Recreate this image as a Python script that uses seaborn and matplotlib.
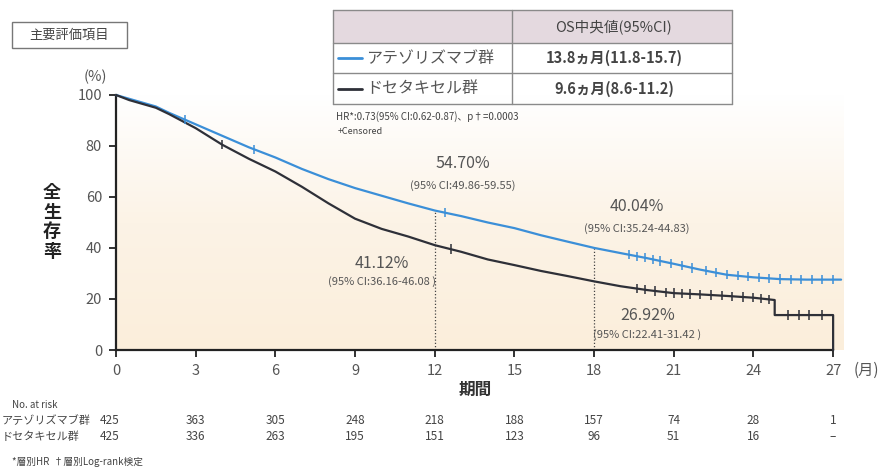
import numpy as np
import pandas as pd
import matplotlib
matplotlib.use("Agg")
import matplotlib.pyplot as plt
import matplotlib.transforms as mtransforms
from matplotlib.colors import LinearSegmentedColormap
from matplotlib.patches import Rectangle
import seaborn as sns

# ---- data -------------------------------------------------------------
arm_names = ["アテゾリズマブ群", "ドセタキセル群"]

atezo_t = [0, 0.5, 1, 1.5, 2, 3, 4, 5, 6, 7, 8, 9, 10, 11, 12, 13, 14, 15,
           16, 17, 18, 19, 20, 21, 22, 23, 24, 25, 26, 27.3]
atezo_s = [100, 98.5, 97, 95.5, 93, 88.5, 84, 79.5, 75.5, 71, 67, 63.5, 60.5,
           57.5, 54.7, 52.5, 50, 47.8, 45, 42.5, 40.04, 38, 36, 33.8, 31.5,
           29.5, 28.5, 27.8, 27.6, 27.6]

doce_t = [0, 0.5, 1, 1.5, 2, 3, 4, 5, 6, 7, 8, 9, 10, 11, 12, 13, 14, 15, 16,
          17, 18, 19, 20, 21, 22, 23, 24, 24.8, 24.8, 27, 27]
doce_s = [100, 98, 96.5, 95, 92.5, 87, 80.5, 75, 70, 64, 57.5, 51.5, 47.5,
          44.5, 41.12, 38.5, 35.5, 33.3, 31, 29, 26.92, 25, 23.5, 22.3, 21.8,
          21.2, 20.5, 19.6, 13.7, 13.7, 0]

atezo_cens = [2.6, 5.2, 12.4, 19.3, 19.6, 19.9, 20.2, 20.5, 20.9, 21.3, 21.7,
              22.2, 22.6, 23.0, 23.4, 23.8, 24.2, 24.6, 25.0, 25.4, 25.8, 26.2,
              26.6, 27.0]
doce_cens = [4.0, 12.6, 19.6, 19.9, 20.3, 20.7, 21.0, 21.3, 21.6, 22.0, 22.4,
             22.8, 23.2, 23.6, 24.0, 24.3, 24.6, 25.3, 25.7, 26.1, 26.6]

# landmark estimates at 12 and 18 months
landmark_s = [54.70, 41.12, 40.04, 26.92]
landmark_ci = ["(95% CI:49.86-59.55)", "(95% CI:36.16-46.08 )",
               "(95% CI:35.24-44.83)", "(95% CI:22.41-31.42 )"]

x_ticks = [0, 3, 6, 9, 12, 15, 18, 21, 24, 27]
y_ticks = [0, 20, 40, 60, 80, 100]
risk_atezo = ["425", "363", "305", "248", "218", "188", "157", "74", "28", "1"]
risk_doce = ["425", "336", "263", "195", "151", "123", "96", "51", "16", "–"]

median_os = ["13.8ヵ月(11.8-15.7)", "9.6ヵ月(8.6-11.2)"]

BLUE = "#3b8fd8"
DARK = "#2e3038"
GRAY = "#555555"
JP = ["Noto Sans CJK JP", "DejaVu Sans"]

# ---- figure -----------------------------------------------------------
sns.set_style("ticks")
plt.rcParams["font.family"] = JP

W, H = 882, 470
fig = plt.figure(figsize=(W / 100, H / 100), dpi=100)
fig.patch.set_facecolor("white")

x_max = 27.4
ax = fig.add_axes([116 / W, 1 - 350 / H, (x_max * 26.56) / W, 255 / H])

# warm background gradient inside the plotting area
grad = np.linspace(0, 1, 256).reshape(-1, 1)
cmap = LinearSegmentedColormap.from_list(
    "bg", ["#fbeedb", "#fcf3e6", "#ffffff"])
ax.imshow(grad, extent=[0, x_max, 0, 100], origin="lower", aspect="auto",
          cmap=cmap, zorder=0)

curves = pd.concat([
    pd.DataFrame({"time": atezo_t, "surv": atezo_s, "arm": arm_names[0]}),
    pd.DataFrame({"time": doce_t, "surv": doce_s, "arm": arm_names[1]}),
])
palette = {arm_names[0]: BLUE, arm_names[1]: DARK}
sns.lineplot(data=curves, x="time", y="surv", hue="arm", palette=palette,
             estimator=None, sort=False, units="arm", linewidth=1.6,
             legend=False, ax=ax, zorder=3, clip_on=False)

cens = pd.concat([
    pd.DataFrame({"time": atezo_cens,
                  "surv": np.interp(atezo_cens, atezo_t, atezo_s),
                  "arm": arm_names[0]}),
    pd.DataFrame({"time": doce_cens,
                  "surv": np.interp(doce_cens, doce_t[:-1], doce_s[:-1]),
                  "arm": arm_names[1]}),
])
sns.scatterplot(data=cens, x="time", y="surv", hue="arm", palette=palette,
                marker="|", s=45, linewidth=1.1, legend=False, ax=ax,
                zorder=4, clip_on=False)

# landmark lines and labels
for t, s in zip([12, 18], [54.70, 40.04]):
    ax.plot([t, t], [0, s], color="#444444", lw=0.9, ls=(0, (1, 1.6)),
            zorder=2)

label_pos = [(13.05, 73.3, 64.3), (10.0, 34.1, 26.7),
             (19.6, 56.1, 47.8), (20.0, 13.7, 5.9)]
for (lx, ly1, ly2), val, ci in zip(label_pos, landmark_s, landmark_ci):
    ax.text(lx, ly1, f"{val:.2f}%", ha="center", va="center", fontsize=11.5,
            color=GRAY, zorder=5)
    ax.text(lx, ly2, ci, ha="center", va="center", fontsize=8,
            color=GRAY, zorder=5)

ax.set_xlim(0, x_max)
ax.set_ylim(0, 100)
ax.set_xticks(x_ticks)
ax.set_yticks(y_ticks)
ax.set_xlabel("")
ax.set_ylabel("")
ax.tick_params(axis="both", direction="out", length=5, width=1.3,
               colors="#222222", labelcolor=GRAY, labelsize=10.5, pad=5)
for side in ["top", "right"]:
    ax.spines[side].set_visible(False)
for side in ["left", "bottom"]:
    ax.spines[side].set_linewidth(1.6)
    ax.spines[side].set_color("#222222")
ax.spines["bottom"].set_bounds(0, 27)

# ---- overlay for text and table outside the axes (pixel coordinates) --
ov = fig.add_axes([0, 0, 1, 1], zorder=10)
ov.set_xlim(0, W)
ov.set_ylim(H, 0)
ov.axis("off")
ov.patch.set_alpha(0)

# title box
ov.add_patch(Rectangle((12, 22), 115, 26, fill=False, ec="#777777", lw=1))
ov.text(69.5, 35, "主要評価項目", ha="center", va="center", fontsize=9.5,
        color="#444444")

ov.text(95, 77, "(%)", ha="center", va="center", fontsize=10.5, color=GRAY)
ov.text(52, 222, "\n".join("全生存率"), ha="center", va="center",
        fontsize=13, fontweight="bold", color="#222222", linespacing=1.05)
ov.text(866, 370, "(月)", ha="center", va="center", fontsize=11, color=GRAY)
ov.text(475, 390, "期間", ha="center", va="center", fontsize=12,
        fontweight="bold", color="#333333")

# summary table
tx0, tx1, tmid = 333, 732, 512
ty = [10, 43, 73, 104]
ov.add_patch(Rectangle((tx0, ty[0]), tx1 - tx0, ty[1] - ty[0],
                       fc="#e4d9df", ec="none"))
for y in ty:
    ov.plot([tx0, tx1], [y, y], color="#8a8a8a", lw=1)
for x in [tx0, tmid, tx1]:
    ov.plot([x, x], [ty[0], ty[-1]], color="#8a8a8a", lw=1)
ov.text(613, 27, "OS中央値(95%CI)", ha="center", va="center", fontsize=10.5,
        color="#444444")
for i, (name, med, col) in enumerate(zip(arm_names, median_os,
                                          [BLUE, DARK])):
    yc = (ty[i + 1] + ty[i + 2]) / 2
    ov.plot([338, 362], [yc, yc], color=col, lw=2)
    ov.text(366, yc, name, ha="left", va="center", fontsize=11.5,
            color=GRAY)
    ov.text(614, yc, med, ha="center", va="center", fontsize=10.5,
            fontweight="bold", color="#444444")

ov.text(336, 117, "HR*:0.73(95% CI:0.62-0.87)、p†=0.0003", ha="left",
        va="center", fontsize=7, color="#444444")
ov.text(338, 132, "+Censored", ha="left", va="center", fontsize=6.5,
        color="#444444")

# number at risk
ov.text(12, 405, "No. at risk", ha="left", va="center", fontsize=7,
        color="#444444")
blend = mtransforms.blended_transform_factory(ax.transData, ov.transData)
for yrow, name, vals in [(421, arm_names[0], risk_atezo),
                         (437, arm_names[1], risk_doce)]:
    ov.text(2, yrow, name, ha="left", va="center", fontsize=8,
            color="#444444")
    for t, v in zip(x_ticks, vals):
        ov.text(t if t else -0.25, yrow, v, ha="center", va="center",
                fontsize=8.5, color="#444444", transform=blend)
ov.text(12, 462, "*層別HR  †層別Log-rank検定", ha="left", va="center",
        fontsize=7, color="#444444")

fig.savefig("out.png", dpi=100)
